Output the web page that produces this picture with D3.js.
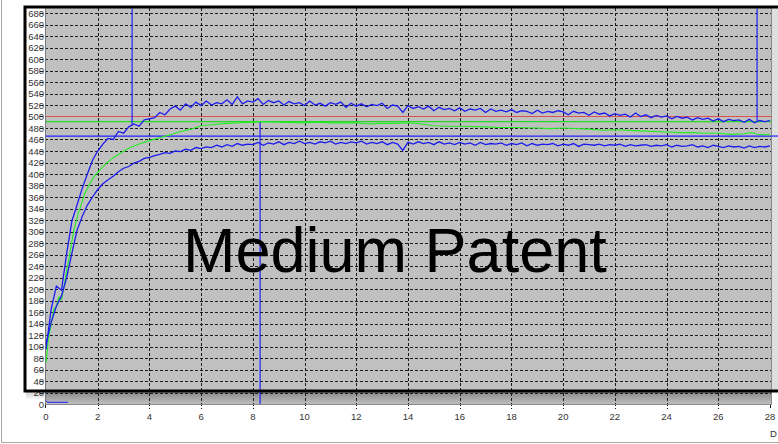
<!DOCTYPE html>
<html><head><meta charset="utf-8">
<script src="https://cdn.jsdelivr.net/npm/d3@7"></script>
<style>body{margin:0;background:#fff;} svg{display:block;}</style>
</head><body><svg id="c" width="778" height="444"></svg>
<script>
// ---- data ----
const xTickLabels = [0,2,4,6,8,10,12,14,16,18,20,22,24,26,28];
const yTickLabels = [0,20,40,60,80,100,120,140,160,180,200,220,240,260,280,300,320,340,360,380,400,420,440,460,480,500,520,540,560,580,600,620,640,660,680];
const sampleStep = 0.2;
const upperValues = [
95,165,205,198,262,318,346,375,400,424,
440,452,462,460,474,471,482,487,483,494,
496,498,507,503,513,518,511,522,516,525,
519,527,520,524,522,529,521,534,522,527,
525,531,521,528,524,527,520,526,522,524,
519,527,520,523,518,524,521,525,516,523,
518,522,517,521,519,523,514,520,518,507,
519,514,517,513,518,510,516,512,514,510,
515,509,513,511,514,507,513,509,511,508,
512,507,510,509,505,511,506,509,507,510,
508,503,509,506,507,502,508,504,506,501,
505,502,504,499,506,500,503,498,502,499,
501,496,500,497,499,494,498,495,497,492,
496,491,495,493,494,490,495,489,493,491,
493];
const lowerValues = [
105,142,170,188,220,262,302,326,346,360,
373,383,390,396,404,410,413,419,422,427,
429,432,434,437,436,440,439,443,441,446,
444,447,446,450,447,451,448,453,450,452,
451,455,450,454,452,456,451,455,453,457,
453,455,452,456,454,457,452,455,453,456,
454,457,452,455,453,456,451,455,452,441,
455,452,456,453,455,451,456,452,454,451,
455,452,454,450,455,451,453,452,454,450,
453,451,454,449,453,450,452,451,453,449,
452,450,453,448,452,451,450,452,449,451,
450,452,448,451,449,450,451,448,450,449,
451,447,450,448,449,451,447,449,446,450,
448,446,449,447,448,445,449,446,448,447,
449];
const greenTimes = [0,0.1,0.2,0.3,0.4,0.5,0.6,0.7,0.8,0.9,1.0,1.1,1.25,1.4,1.5,1.7,1.85,2.0,2.2,2.4,2.6,2.8,3.0,3.3,3.6,4.0,4.4,4.8,5.2,5.6,6.0,6.5,7.0,7.5,8.0,8.5,9.0,10,10.5,11,12,12.5,13,13.5,14,14.5,15,15.5,16,17,17.5,18,19,19.5,20,21,21.5,22,23,24,24.5,25,25.5,26,26.5,27,27.3,27.5,28];
const greenValues = [72,115,138,165,170,186,182,205,232,256,283,306,332,352,366,383,395,403,413,421,428,434,440,447,452,458,463,468,474,478,484,486,488,489,490,491,490,489,490,489,489,487,488,488,489,487,484,483,483,482,481,481,480,479,480,478,476,477,475,473,472,472,471,471,469,470,472,469,468];
const baseTimes = [0, 0.05, 0.85];
const baseValues = [6, 3, 3];
const refNames = ["red","green","blue"];
const refValues = [500, 491, 466];
const cursorTimes = [3.33, 8.28, 27.5];
const cursorFrom = [688, 490, 688];
const cursorTo = [485, 0, 492];
const titleText = "Medium Patent";
const axisUnit = "D";

// ---- drawing ----
const svg = d3.select("#c");
const x = d3.scaleLinear().domain([0, 28]).range([46, 770]);
const y = d3.scaleLinear().domain([0, 680]).range([404, 13]);
const plotL = 45.5, plotR = 771.5, plotT = 8, plotB = 404.5;

// outer window border
svg.append("line").attr("x1",1.5).attr("x2",1.5).attr("y1",0).attr("y2",442.5).attr("stroke","#a8a8a8");
svg.append("line").attr("x1",1.5).attr("x2",778).attr("y1",442.5).attr("y2",442.5).attr("stroke","#a8a8a8");

// plot background
svg.append("rect").attr("x",plotL).attr("y",plotT).attr("width",plotR-plotL).attr("height",plotB-plotT).attr("fill","#c0c0c0");
svg.append("rect").attr("x",plotR+0.5).attr("y",plotT).attr("width",8).attr("height",391-plotT).attr("fill","#dedede");

const defs = svg.append("defs");
const grad = defs.append("linearGradient").attr("id","shadow").attr("x1",0).attr("x2",0).attr("y1",0).attr("y2",1);
grad.append("stop").attr("offset","0").attr("stop-color","#8c8c8c");
grad.append("stop").attr("offset","1").attr("stop-color","#c0c0c0");
svg.append("rect").attr("x",plotL).attr("y",392).attr("width",plotR-plotL).attr("height",plotB-392).attr("fill","url(#shadow)");
const gradL = defs.append("linearGradient").attr("id","shadowL").attr("x1",0).attr("x2",0).attr("y1",0).attr("y2",1);
gradL.append("stop").attr("offset","0").attr("stop-color","#cfcfcf");
gradL.append("stop").attr("offset","1").attr("stop-color","#ffffff");
svg.append("rect").attr("x",26).attr("y",392).attr("width",plotL-26).attr("height",8).attr("fill","url(#shadowL)");

defs.append("clipPath").attr("id","plotClip").append("rect")
  .attr("x",plotL).attr("y",plotT).attr("width",plotR-plotL).attr("height",plotB-plotT);

// grid
const grid = svg.append("g").attr("shape-rendering","crispEdges");
grid.selectAll("line.h").data(yTickLabels.filter(v => v > 0)).join("line")
  .attr("x1",40).attr("x2",plotR).attr("y1",d => Math.round(y(d))+0.5).attr("y2",d => Math.round(y(d))+0.5)
  .attr("stroke","#1a1a1a").attr("stroke-dasharray","3,2");
grid.selectAll("line.v").data(xTickLabels.filter(v => v > 0 && v < 28)).join("line")
  .attr("x1",d => Math.round(x(d))+0.5).attr("x2",d => Math.round(x(d))+0.5).attr("y1",plotT).attr("y2",409)
  .attr("stroke","#1a1a1a").attr("stroke-dasharray","3,2");
// axis lines
grid.append("line").attr("x1",plotL).attr("x2",plotL).attr("y1",plotT).attr("y2",plotB).attr("stroke","#7a7a7a");
grid.append("line").attr("x1",plotL).attr("x2",plotR).attr("y1",plotB).attr("y2",plotB).attr("stroke","#8a8a8a");
grid.append("line").attr("x1",plotR).attr("x2",plotR).attr("y1",plotT).attr("y2",plotB).attr("stroke","#8a8a8a");
grid.append("line").attr("x1",plotL).attr("x2",plotL).attr("y1",plotB).attr("y2",409).attr("stroke","#1a1a1a").attr("stroke-dasharray","3,2");
grid.append("line").attr("x1",plotR-1).attr("x2",plotR-1).attr("y1",plotB).attr("y2",409).attr("stroke","#1a1a1a").attr("stroke-dasharray","3,2");

// tick labels
const font = "'Liberation Sans', Arial, sans-serif";
svg.append("g").selectAll("text").data(yTickLabels).join("text")
  .attr("x",44).attr("y",d => y(d)+3.5).attr("text-anchor","end")
  .attr("font-family",font).attr("font-size",9.5).attr("fill","#333").text(d => d);
svg.append("g").selectAll("text").data(xTickLabels).join("text")
  .attr("x",d => x(d)).attr("y",420).attr("text-anchor","middle")
  .attr("font-family",font).attr("font-size",9.5).attr("fill","#333").text(d => d);
svg.append("text").attr("x",770).attr("y",437).attr("font-family",font).attr("font-size",9.5).attr("fill","#333").text(axisUnit);

// data
const data = svg.append("g").attr("clip-path","url(#plotClip)");
const line = d3.line().x(d => x(d[0])).y(d => y(d[1]));
const refColors = {red:"#dc5050", green:"#22dd22", blue:"#2020ff"};
refNames.forEach((n,i) => {
  data.append("line").attr("x1",plotL).attr("x2",plotR).attr("y1",y(refValues[i])).attr("y2",y(refValues[i]))
    .attr("stroke",refColors[n]).attr("stroke-width",1.2);
});
// blue ref extends beyond plot to the right edge
svg.append("line").attr("x1",plotR).attr("x2",778).attr("y1",y(refValues[2])).attr("y2",y(refValues[2])).attr("stroke","#2020ff").attr("stroke-width",1.2);

data.append("path").datum(greenTimes.map((t,i)=>[t,greenValues[i]])).attr("d",line)
  .attr("fill","none").attr("stroke","#22ee22").attr("stroke-width",1.1);
data.append("path").datum(upperValues.map((v,i)=>[i*sampleStep,v])).attr("d",line)
  .attr("fill","none").attr("stroke","#1c1cf0").attr("stroke-width",1.3);
data.append("path").datum(lowerValues.map((v,i)=>[i*sampleStep,v])).attr("d",line)
  .attr("fill","none").attr("stroke","#1c1cf0").attr("stroke-width",1.3);
data.append("path").datum(baseTimes.map((t,i)=>[t,baseValues[i]])).attr("d",line)
  .attr("fill","none").attr("stroke","#2020ff").attr("stroke-width",1);
cursorTimes.forEach((t,i) => {
  data.append("line").attr("x1",x(t)).attr("x2",x(t)).attr("y1",y(cursorFrom[i])).attr("y2",y(cursorTo[i]))
    .attr("stroke","#2020ff").attr("stroke-width",1.2);
});

// overlay frame
svg.append("rect").attr("x",25).attr("y",7).attr("width",770).attr("height",384)
  .attr("fill","none").attr("stroke","#000").attr("stroke-width",3);

// title text
svg.append("text").attr("x",183).attr("y",272).attr("font-family",font).attr("font-size",63)
  .attr("fill","#000").text(titleText);
</script></body></html>
